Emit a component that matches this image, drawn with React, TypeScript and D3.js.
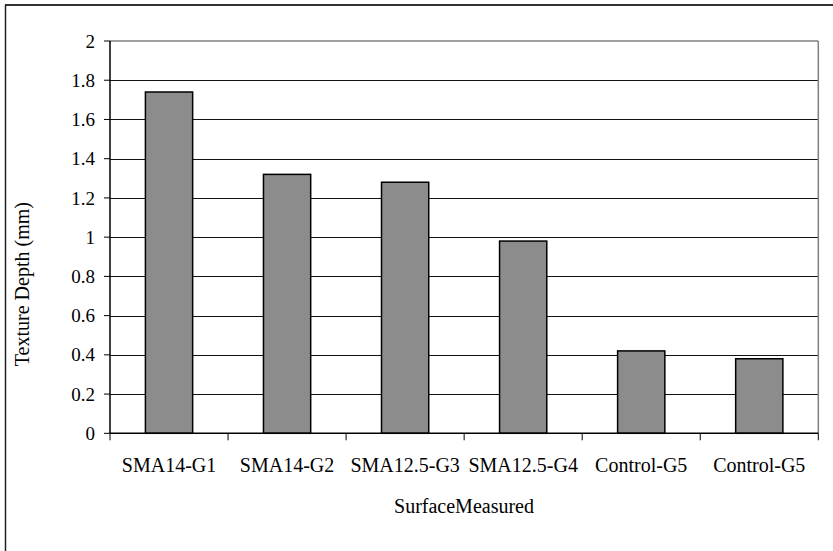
import React from "react";
import * as d3 from "d3";

const categories = ["SMA14-G1", "SMA14-G2", "SMA12.5-G3", "SMA12.5-G4", "Control-G5", "Control-G5 "];
const values = [1.74, 1.32, 1.28, 0.98, 0.42, 0.38];
const yTicks = [0, 0.2, 0.4, 0.6, 0.8, 1, 1.2, 1.4, 1.6, 1.8, 2];

const W = 833;
const H = 551;
const plot = { left: 110, right: 818.3, top: 41, bottom: 433.3 };
const FONT = "'Times New Roman', Times, 'Liberation Serif', 'DejaVu Serif', serif";

export default function App() {
  const x = d3.scaleBand<string>().domain(categories).range([plot.left, plot.right]).paddingInner(0.6).paddingOuter(0.3);
  const y = d3.scaleLinear().domain([0, 2]).range([plot.bottom, plot.top]);
  const band = (plot.right - plot.left) / categories.length;
  const ts = { fontFamily: FONT };

  return (
    <svg width={W} height={H} style={{ position: "absolute", left: 0, top: 0, background: "#fff", fontFamily: FONT }}>
      <rect x={0} y={0} width={W} height={H} fill="#fff" />
      <line x1={5} y1={5} x2={W} y2={5} stroke="#333" strokeWidth={2} />
      <line x1={5.5} y1={5} x2={5.5} y2={H} stroke="#222" strokeWidth={1.5} />
      {yTicks.filter(t => t > 0 && t < 2).map(t => (
        <line key={t} x1={plot.left} x2={plot.right} y1={Math.round(y(t)) + 0.5} y2={Math.round(y(t)) + 0.5} stroke="#111" strokeWidth={1} />
      ))}
      <line x1={plot.left} x2={plot.right} y1={y(2)} y2={y(2)} stroke="#808080" strokeWidth={1.5} />
      <line x1={plot.right} x2={plot.right} y1={plot.top} y2={plot.bottom} stroke="#808080" strokeWidth={1.5} />
      {categories.map((c, i) => (
        <rect key={i} x={x(c)} y={y(values[i])} width={x.bandwidth()} height={y(0) - y(values[i])} fill="#8c8c8c" stroke="#000" strokeWidth={1.5} />
      ))}
      <line x1={plot.left} x2={plot.left} y1={plot.top} y2={plot.bottom} stroke="#000" strokeWidth={1.5} />
      {yTicks.map(t => (
        <g key={t}>
          <line x1={plot.left - 6} x2={plot.left} y1={y(t)} y2={y(t)} stroke="#000" strokeWidth={1} />
          <text x={plot.left - 15} y={y(t)} dy="0.35em" textAnchor="end" fontSize={19} fill="#000" style={ts}>{d3.format("~g")(t)}</text>
        </g>
      ))}
      <line x1={plot.left} x2={plot.right} y1={plot.bottom} y2={plot.bottom} stroke="#000" strokeWidth={1.5} />
      {d3.range(categories.length + 1).map(i => (
        <line key={i} x1={plot.left + i * band} x2={plot.left + i * band} y1={plot.bottom} y2={plot.bottom + 7} stroke="#000" strokeWidth={1} />
      ))}
      {categories.map((c, i) => (
        <text key={i} x={plot.left + (i + 0.5) * band} y={plot.bottom + 39} textAnchor="middle" fontSize={20} fill="#000" style={ts}>{c.trim()}</text>
      ))}
      <text x={464} y={513} textAnchor="middle" fontSize={20} fill="#000" style={ts}>SurfaceMeasured</text>
      <text transform={`translate(29, ${(plot.top + plot.bottom) / 2 + 47}) rotate(-90)`} textAnchor="middle" fontSize={20} fill="#000" style={ts}>Texture Depth (mm)</text>
    </svg>
  );
}
